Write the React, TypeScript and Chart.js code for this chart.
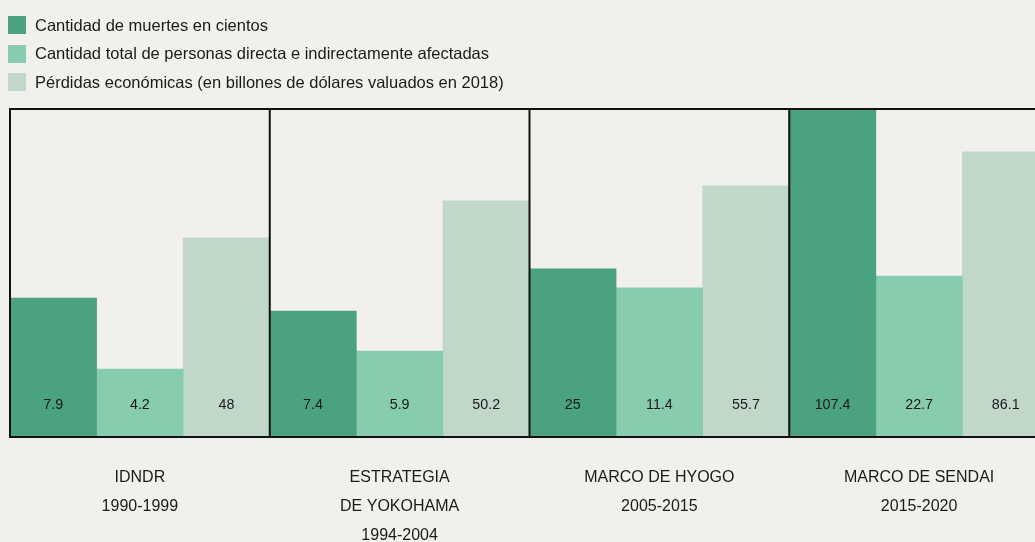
import React, { useEffect, useRef } from "react";
import { Chart, registerables } from "chart.js";

Chart.register(...registerables);

const categories: string[][] = [
  ["IDNDR", "1990-1999"],
  ["ESTRATEGIA", "DE YOKOHAMA", "1994-2004"],
  ["MARCO DE HYOGO", "2005-2015"],
  ["MARCO DE SENDAI", "2015-2020"],
];

const seriesNames = [
  "Cantidad de muertes en cientos",
  "Cantidad total de personas directa e indirectamente afectadas",
  "Pérdidas económicas (en billones de dólares valuados en 2018)",
];

// bar heights as drawn (percentage of plot height)
const deathsHeight = [42.5, 38.5, 51.4, 100];
const affectedHeight = [20.8, 26.3, 45.6, 49.2];
const lossesHeight = [60.9, 72.2, 76.8, 87.2];

// values printed on the bars
const deathsLabels = ["7.9", "7.4", "25", "107.4"];
const affectedLabels = ["4.2", "5.9", "11.4", "22.7"];
const lossesLabels = ["48", "50.2", "55.7", "86.1"];

const colors = ["#4ba27e", "#87cdad", "#c1d7c8"];
const BG = "#f2f0ec";
const FONT = "'Liberation Sans', Arial, sans-serif";

export default function App() {
  const ref = useRef<HTMLCanvasElement | null>(null);

  useEffect(() => {
    if (!ref.current) return;
    const labelSets = [deathsLabels, affectedLabels, lossesLabels];

    const overlay = {
      id: "overlay",
      afterDatasetsDraw(chart: any) {
        const ctx = chart.ctx;
        const area = chart.chartArea;
        const xs = chart.scales.x;
        ctx.save();
        // value labels
        ctx.fillStyle = "#1a1a1a";
        ctx.font = `14.3px ${FONT}`;
        ctx.textAlign = "center";
        ctx.textBaseline = "middle";
        chart.data.datasets.forEach((ds: any, di: number) => {
          const meta = chart.getDatasetMeta(di);
          meta.data.forEach((bar: any, i: number) => {
            ctx.fillText(labelSets[di][i], bar.x, 405);
          });
        });
        // boxes
        ctx.strokeStyle = "#111";
        ctx.lineWidth = 2;
        ctx.beginPath();
        ctx.moveTo(area.left, area.top - 1);
        ctx.lineTo(area.right, area.top - 1);
        ctx.moveTo(area.left, area.bottom);
        ctx.lineTo(area.right, area.bottom);
        const n = categories.length;
        const w = (area.right - area.left) / n;
        for (let i = 0; i <= n; i++) {
          const x = area.left + i * w;
          ctx.moveTo(x, area.top - 2);
          ctx.lineTo(x, area.bottom + 1);
        }
        ctx.stroke();
        // category labels
        ctx.fillStyle = "#1a1a1a";
        ctx.font = `16px ${FONT}`;
        categories.forEach((lines, i) => {
          const cx = xs.getPixelForValue(i);
          lines.forEach((t, li) => {
            ctx.fillText(t, cx, 478 + li * 29);
          });
        });
        ctx.restore();
      },
    };

    const chart = new Chart(ref.current, {
      type: "bar",
      data: {
        labels: categories.map((c) => c.join(" ")),
        datasets: [
          { label: seriesNames[0], data: deathsHeight, backgroundColor: colors[0] },
          { label: seriesNames[1], data: affectedHeight, backgroundColor: colors[1] },
          { label: seriesNames[2], data: lossesHeight, backgroundColor: colors[2] },
        ],
      },
      options: {
        animation: false,
        responsive: false,
        maintainAspectRatio: false,
        layout: { padding: { left: 10, top: 110, right: 3, bottom: 105 } },
        datasets: { bar: { categoryPercentage: 1, barPercentage: 1 } },
        plugins: { legend: { display: false }, tooltip: { enabled: false } },
        scales: {
          x: { display: false },
          y: { display: false, min: 0, max: 100 },
        },
      },
      plugins: [overlay],
    });
    return () => chart.destroy();
  }, []);

  return (
    <div
      style={{
        position: "fixed",
        left: 0,
        top: 0,
        width: "100vw",
        height: "100vh",
        overflow: "hidden",
        background: BG,
        fontFamily: FONT,
      }}
    >
      <canvas
        ref={ref}
        width={1052}
        height={542}
        style={{ position: "absolute", left: 0, top: 0, width: 1052, height: 542 }}
      />
      <div style={{ position: "absolute", left: 8, top: 11 }}>
        {seriesNames.map((name, i) => (
          <div
            key={name}
            style={{ display: "flex", alignItems: "center", height: 28.5, fontSize: 16.5, color: "#1a1a1a" }}
          >
            <span
              style={{ display: "inline-block", width: 18, height: 18, background: colors[i], marginRight: 9, flexShrink: 0 }}
            />
            <span>{name}</span>
          </div>
        ))}
      </div>
    </div>
  );
}
